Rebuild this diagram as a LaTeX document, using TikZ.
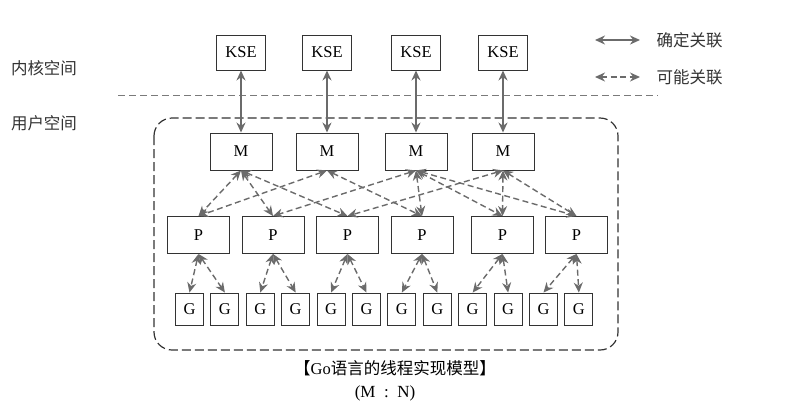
\documentclass[tikz,border=0pt]{standalone}
\usepackage{fontspec}
\setmainfont{Liberation Serif}
\newfontfamily\cjk{Noto Sans CJK SC}
\usepackage{xcolor}
\usetikzlibrary{positioning, arrows.meta, calc}
\definecolor{linkgray}{HTML}{6B6B6B}
\definecolor{boxline}{HTML}{333333}
\definecolor{sepgray}{HTML}{7A7A7A}

\tikzset{
  unitbox/.style={draw=boxline, line width=0.9pt, inner sep=0pt,
                  minimum width=62pt, minimum height=37pt,
                  font=\fontsize{16.5}{18}\selectfont},
  ksebox/.style={unitbox, minimum width=49pt, minimum height=35pt},
  gbox/.style={unitbox, minimum width=28pt, minimum height=32pt},
  fixedlink/.style={draw=linkgray, line width=1.5pt,
                    {Stealth[length=10pt,width=9pt]}-{Stealth[length=10pt,width=9pt]}},
  maybelink/.style={fixedlink, line width=1.4pt, dash pattern=on 6pt off 3.5pt},
  spacelabel/.style={font=\cjk\fontsize{16.5}{19}\selectfont, text=black!80},
}

\begin{document}
\begin{tikzpicture}[x=1pt, y=-1pt]
  \useasboundingbox (0,0) rectangle (796,408);

  % kernel / user split
  \node[spacelabel] (kernel) at (44,68) {内核空间};
  \node[spacelabel] (user) at (44,123) {用户空间};
  \draw[sepgray, line width=1pt, dash pattern=on 7pt off 4pt] (118,95) -- (658,95);
  \draw[boxline, line width=1.2pt, dash pattern=on 9pt off 4pt, rounded corners=18pt]
    (154,118) rectangle (618,350);

  % KSE and M
  \foreach \x [count=\i] in {241,327,416,503} {
    \node[ksebox] (kse\i) at (\x,52.5) {KSE};
    \node[unitbox] (m\i) at (\x,151.5) {M};
    \draw[fixedlink] (kse\i.south) -- (m\i.north);
  }

  % P
  \foreach \x [count=\i] in {198.5,273,347.5,422,502.5,576.5}
    \node[unitbox] (p\i) at (\x,235) {P};

  % G
  \foreach \i in {1,...,12}
    \node[gbox] (g\i) at ({189.5+35.4*(\i-1)},309) {G};

  % M -- P
  \foreach \m/\p in {1/1,1/2,1/3,2/1,2/4,3/2,3/4,3/5,3/6,4/3,4/5,4/6}
    \draw[maybelink] (m\m.south) -- (p\p.north);

  % P -- G
  \foreach \p in {1,...,6} {
    \pgfmathtruncatemacro{\ga}{2*\p-1}
    \pgfmathtruncatemacro{\gb}{2*\p}
    \draw[maybelink] (p\p.south) -- (g\ga.north);
    \draw[maybelink] (p\p.south) -- (g\gb.north);
  }

  % legend
  \coordinate (fixA) at (595,40);
  \coordinate (fixB) at (640,40);
  \coordinate (mayA) at (595,77);
  \coordinate (mayB) at (640,77);
  \draw[fixedlink] (fixA) -- (fixB);
  \draw[maybelink] (mayA) -- (mayB);
  \node[spacelabel, anchor=west] (fixtext) at (653,40) {确定关联};
  \node[spacelabel, anchor=west] (maytext) at (653,77) {可能关联};

  % caption
  \node[font=\cjk\fontsize{16.5}{19}\selectfont] (caption) at (395,368)
    {【{\rmfamily Go}语言的线程实现模型】};
  \node[font=\fontsize{17}{19}\selectfont] (ratio) at (385,393) {(M\enspace:\enspace N)};
\end{tikzpicture}
\end{document}
